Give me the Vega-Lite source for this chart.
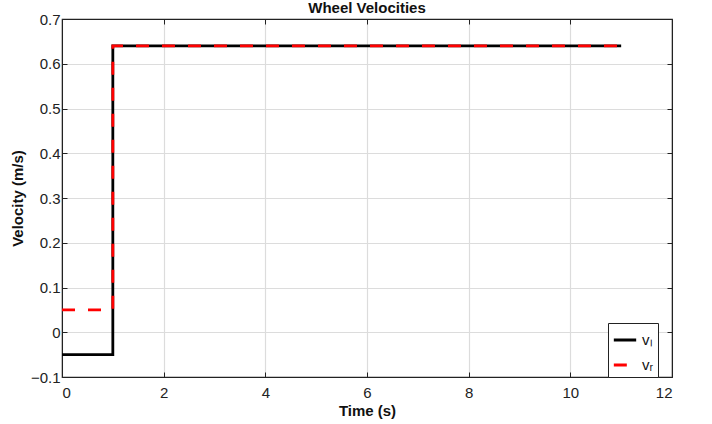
{
  "$schema": "https://vega.github.io/schema/vega-lite/v6.json",
  "autosize": "none",
  "width": 610,
  "height": 358,
  "padding": {"left": 62, "top": 19, "right": 40, "bottom": 47},
  "background": "white",
  "config": {
    "font": "Liberation Sans",
    "view": {"stroke": "#222", "strokeWidth": 1.2},
    "axis": {
      "labelFont": "Liberation Sans",
      "labelFontSize": 15,
      "labelColor": "#222",
      "titleFont": "Liberation Sans",
      "titleFontSize": 15,
      "titleFontWeight": "bold",
      "titleColor": "#111",
      "tickSize": -5,
      "tickColor": "#222",
      "domainColor": "#222",
      "gridColor": "#dcdcdc",
      "gridWidth": 1.2
    }
  },
  "title": {
    "text": "Wheel Velocities",
    "font": "Liberation Sans",
    "fontSize": 15,
    "fontWeight": "bold",
    "color": "#111",
    "offset": -4
  },
  "data": {
    "values": [
      {"t": 0, "v": -0.05, "s": "vₗ", "o": 1},
      {"t": 1, "v": -0.05, "s": "vₗ", "o": 2},
      {"t": 1, "v": 0.64, "s": "vₗ", "o": 3},
      {"t": 11, "v": 0.64, "s": "vₗ", "o": 4},
      {"t": 0, "v": 0.05, "s": "vᵣ", "o": 1},
      {"t": 1, "v": 0.05, "s": "vᵣ", "o": 2},
      {"t": 1, "v": 0.64, "s": "vᵣ", "o": 3},
      {"t": 11, "v": 0.64, "s": "vᵣ", "o": 4}
    ]
  },
  "layer": [
    {
      "mark": {"type": "line", "strokeWidth": 2.8, "clip": true},
      "encoding": {
        "x": {
          "field": "t", "type": "quantitative",
          "scale": {"domain": [0, 12], "nice": false, "zero": false},
          "axis": {"title": "Time (s)", "values": [0,2,4,6,8,10,12], "labelFontSize": 15, "labelPadding": 13, "titlePadding": 3}
        },
        "y": {
          "field": "v", "type": "quantitative",
          "scale": {"domain": [-0.1, 0.7], "nice": false, "zero": false},
          "axis": {"title": "Velocity (m/s)", "values": [-0.1,0,0.1,0.2,0.3,0.4,0.5,0.6,0.7], "format": "~g", "labelFontSize": 15, "labelPadding": 7, "titlePadding": 5}
        },
        "order": {"field": "o"},
        "color": {
          "field": "s", "type": "nominal",
          "scale": {"domain": ["vₗ", "vᵣ"], "range": ["#000000", "#ff0000"]},
          "legend": {
            "title": null,
            "orient": "none",
            "legendX": 546,
            "legendY": 304,
            "direction": "vertical",
            "symbolType": "stroke",
            "symbolSize": 500,
            "symbolStrokeWidth": 3,
            "labelFontSize": 15,
            "labelFont": "Liberation Sans",
            "labelColor": "#111",
            "labelOffset": 4,
            "rowPadding": 4,
            "padding": 4,
            "strokeColor": "#222",
            "fillColor": "white"
          }
        },
        "strokeDash": {
          "field": "s", "type": "nominal",
          "scale": {"domain": ["vₗ", "vᵣ"], "range": [[1, 0], [13, 13]]},
          "legend": null
        }
      }
    },
    {
      "mark": {"type": "point", "opacity": 0},
      "encoding": {
        "x": {"field": "t", "type": "quantitative", "axis": {"orient": "top", "labels": false, "title": null, "grid": false, "values": [0,2,4,6,8,10,12]}},
        "y": {"field": "v", "type": "quantitative", "axis": {"orient": "right", "labels": false, "title": null, "grid": false, "values": [-0.1,0,0.1,0.2,0.3,0.4,0.5,0.6,0.7]}}
      }
    }
  ],
  "resolve": {"axis": {"x": "independent", "y": "independent"}}
}
